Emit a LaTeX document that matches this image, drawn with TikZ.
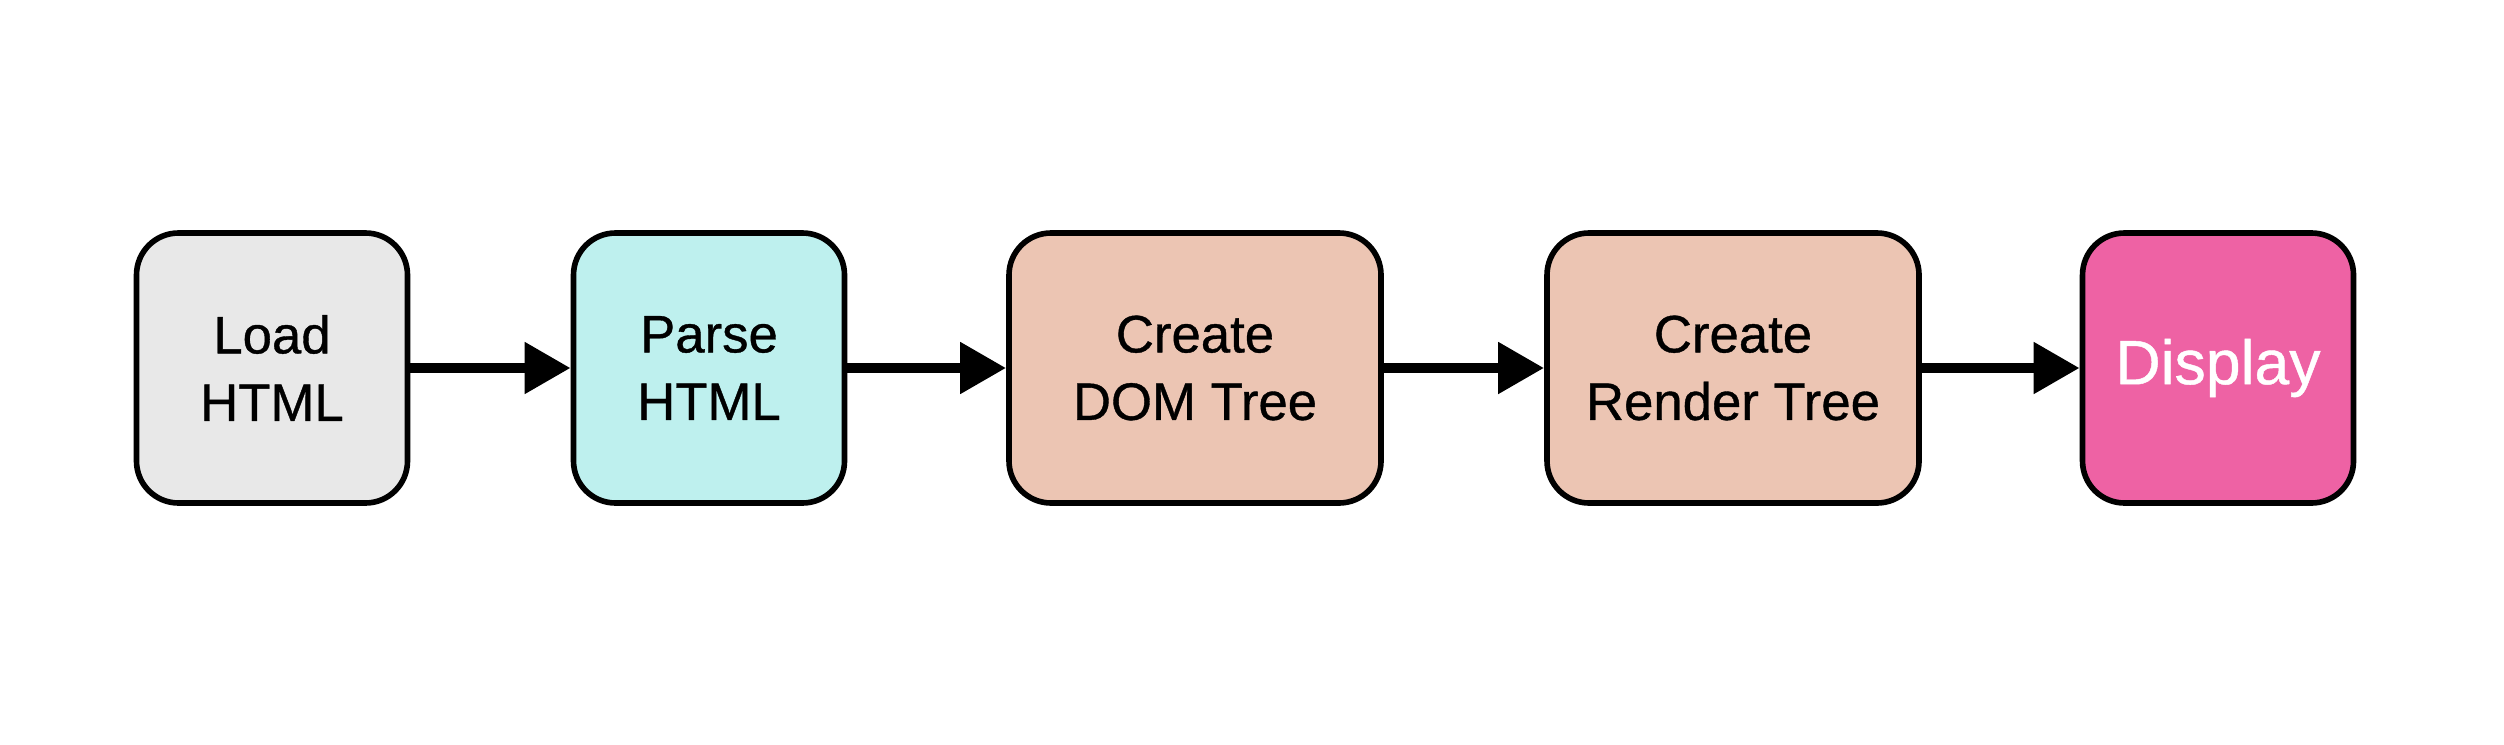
\documentclass[tikz,border=0pt]{standalone}
\usepackage{fontspec}
\setmainfont{Liberation Sans}[FakeBold=0.7]
\usetikzlibrary{arrows.meta}

\definecolor{loadgray}{RGB}{232,232,232}
\definecolor{parsecyan}{RGB}{190,240,238}
\definecolor{treepeach}{RGB}{236,197,179}
\definecolor{displaypink}{RGB}{238,98,164}

\begin{document}
\begin{tikzpicture}[
    stage/.style={draw, line width=1.6pt, rounded corners=0.42cm, align=center,
        minimum height=2.70cm, inner sep=0pt,
        font=\fontsize{15}{19.2}\selectfont},
    small/.style={stage, minimum width=2.71cm},
    wide/.style={stage, minimum width=3.72cm},
    flow/.style={line width=3.1pt, -{Triangle[length=4.6mm, width=4.9mm]}}
]
    \useasboundingbox (0, 0) rectangle (25.04, 7.44);

    \node[small, fill=loadgray] (load) at (2.72, 3.76) {Load\\HTML};
    \node[small, fill=parsecyan] (parse) at (7.09, 3.76) {Parse\\HTML};
    \node[wide, fill=treepeach] (dom) at (11.95, 3.76) {Create\\DOM Tree};
    \node[wide, fill=treepeach] (render) at (17.33, 3.76) {Create\\Render Tree};
    \node[small, fill=displaypink, text=white,
        font=\fontsize{17.8}{21}\selectfont] (display) at (22.18, 3.76) {Display};

    \foreach \a/\b in {load/parse, parse/dom, dom/render, render/display}
        \draw[flow] (\a) -- (\b);
\end{tikzpicture}
\end{document}
